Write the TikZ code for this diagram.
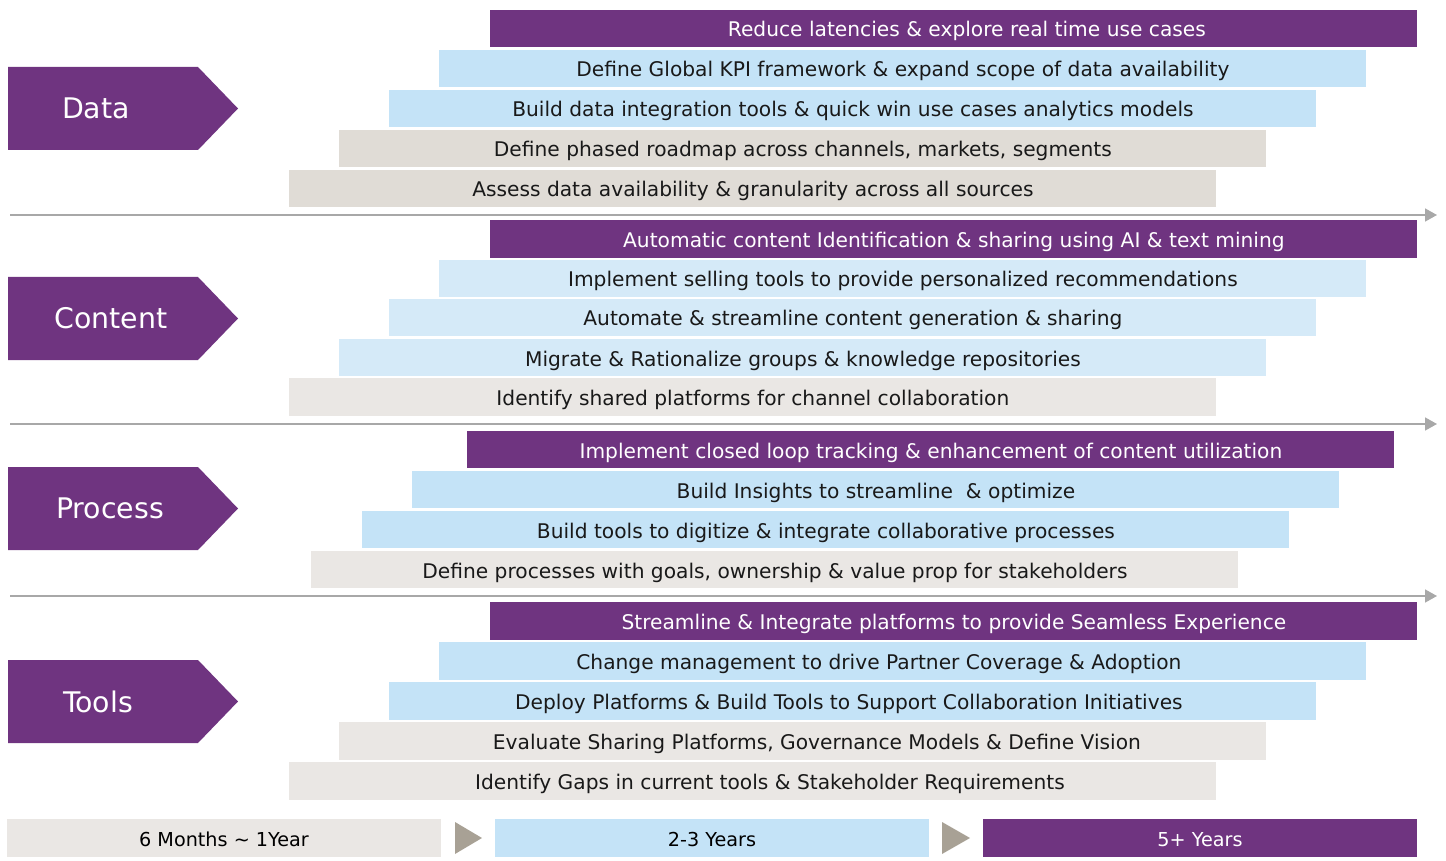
\documentclass[tikz,border=0pt]{standalone}
\usepackage{fontspec}
\setmainfont{DejaVu Sans}
\usetikzlibrary{arrows.meta}

\definecolor{purp}{HTML}{6F3480}
\definecolor{blue}{HTML}{C4E3F7}
\definecolor{bluelight}{HTML}{D5EAF8}
\definecolor{beige}{HTML}{E0DCD6}
\definecolor{beigelight}{HTML}{EAE7E4}
\definecolor{arrowgray}{HTML}{A8A8A8}
\definecolor{tri}{HTML}{A8A195}

\tikzstyle{bar}=[anchor=west, minimum width=463.5pt, minimum height=18.75pt, inner sep=0pt, text height=1.0em, text depth=0.15em, font=\fontsize{10.1}{12}\selectfont, text=black!90]
\tikzstyle{top}=[bar, fill=purp, text=white]
\tikzstyle{area}=[font=\fontsize{14.2}{16}\selectfont, text=white]
\tikzstyle{span}=[minimum width=217pt, minimum height=19pt, inner sep=0pt, text height=1.0em, text depth=0.15em, font=\fontsize{9.6}{11}\selectfont]
\tikzstyle{timeline}=[arrowgray, line width=0.8pt, -{Triangle[length=6pt, width=6.5pt]}]

\begin{document}
\begin{tikzpicture}[x=0.5pt, y=-0.5pt]
            \useasboundingbox (0,0) rectangle (1446,861);
            % Data
            \fill[purp] (8,67) -- (198,67) -- (238,108.5) -- (198,150) -- (8,150) -- cycle;
            \node[area] at (96,108.5) (data) {Data};
            \node[top] at (490,28.5) (d1) {\hspace{13pt}Reduce latencies \& explore real time use cases};
            \node[bar, fill=blue] at (439,68.5) (d2) {Define Global KPI framework \& expand scope of data availability};
            \node[bar, fill=blue] at (389,108.5) (d3) {Build data integration tools \& quick win use cases analytics models};
            \node[bar, fill=beige] at (339,148.5) (d4) {Define phased roadmap across channels, markets, segments};
            \node[bar, fill=beige] at (289,188.5) (d5) {Assess data availability \& granularity across all sources};
            \coordinate (l1s) at (10,215);
            \coordinate (l1e) at (1437,215);
            \draw[timeline] (l1s) -- (l1e);
            % Content
            \fill[purp] (8,277) -- (198,277) -- (238,318.5) -- (198,360) -- (8,360) -- cycle;
            \node[area] at (111,318.5) (content) {Content};
            \node[top] at (490,239) (c1) {Automatic content Identification \& sharing using AI \& text mining};
            \node[bar, fill=bluelight] at (439,278.5) (c2) {Implement selling tools to provide personalized recommendations};
            \node[bar, fill=bluelight] at (389,317.5) (c3) {Automate \& streamline content generation \& sharing};
            \node[bar, fill=bluelight] at (339,357.5) (c4) {Migrate \& Rationalize groups \& knowledge repositories};
            \node[bar, fill=beigelight] at (289,397) (c5) {Identify shared platforms for channel collaboration};
            \coordinate (l2s) at (10,424);
            \coordinate (l2e) at (1437,424);
            \draw[timeline] (l2s) -- (l2e);
            % Process
            \fill[purp] (8,467) -- (198,467) -- (238,508.5) -- (198,550) -- (8,550) -- cycle;
            \node[area] at (110,508.5) (process) {Process};
            \node[top] at (467,449.5) (p1) {Implement closed loop tracking \& enhancement of content utilization};
            \node[bar, fill=blue] at (412,489.5) (p2) {Build Insights to streamline \ \& optimize};
            \node[bar, fill=blue] at (362,529.5) (p3) {Build tools to digitize \& integrate collaborative processes};
            \node[bar, fill=beigelight] at (311,569.5) (p4) {Define processes with goals, ownership \& value prop for stakeholders};
            \coordinate (l3s) at (10,596);
            \coordinate (l3e) at (1437,596);
            \draw[timeline] (l3s) -- (l3e);
            % Tools
            \fill[purp] (8,660) -- (198,660) -- (238,701.5) -- (198,743) -- (8,743) -- cycle;
            \node[area] at (98,701.5) (tools) {Tools};
            \node[top] at (490,621) (t1) {Streamline \& Integrate platforms to provide Seamless Experience};
            \node[bar, fill=blue] at (439,661) (t2) {Change management to drive Partner Coverage \& Adoption\kern24pt};
            \node[bar, fill=blue] at (389,701) (t3) {Deploy Platforms \& Build Tools to Support Collaboration Initiatives\kern4pt};
            \node[bar, fill=beigelight] at (339,741) (t4) {\hspace{14pt}Evaluate Sharing Platforms, Governance Models \& Define Vision};
            \node[bar, fill=beigelight] at (289,781) (t5) {\hspace{17pt}Identify Gaps in current tools \& Stakeholder Requirements};
            % time spans
            \node[span, fill=beigelight] at (224,838) (s1) {6 Months \textasciitilde{} 1Year};
            \fill[tri] (455,822) -- (482,838) -- (455,854) -- cycle;
            \node[span, fill=blue] at (712,838) (s2) {2-3 Years};
            \fill[tri] (942,822) -- (970,838) -- (942,854) -- cycle;
            \node[span, fill=purp, text=white] at (1200,838) (s3) {5+ Years};
        \end{tikzpicture}
\end{document}
